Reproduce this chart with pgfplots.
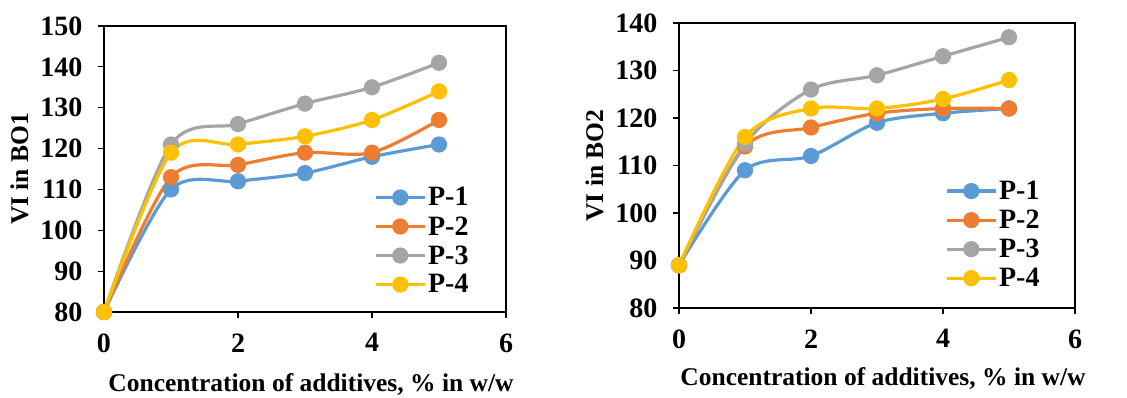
\documentclass[border=0pt]{standalone}
\usepackage{fontspec}
\setmainfont{Liberation Serif}
\usepackage{pgfplots}
\pgfplotsset{compat=1.18}
\definecolor{c1}{HTML}{5B9BD5}
\definecolor{c2}{HTML}{ED7D31}
\definecolor{c3}{HTML}{A5A5A5}
\definecolor{c4}{HTML}{FFC000}
\pgfplotsset{
  myax/.style={
    scale only axis,
    xmin=0, xmax=6, xtick={0,2,4,6},
    axis line style={line width=1.3pt},
    tick style={line width=1.1pt, black},
    major tick length=6pt,
    tick align=outside,
    xtick pos=bottom, ytick pos=left,
    /pgf/number format/assume math mode=true,
    ticklabel style={font=\fontsize{28}{30}\selectfont\bfseries},
    xticklabel style={yshift=-12pt},
    yticklabel style={xshift=-12pt},
    label style={font=\fontsize{25.5}{28}\selectfont\bfseries},
    xlabel={Concentration of additives, \% in w/w},
    legend style={draw=none, fill=none, font=\fontsize{28}{28}\selectfont\bfseries, row sep=5pt,
      legend cell align=left, anchor=north west},
    legend image code/.code={
      \draw[mark repeat=2,mark phase=2,#1] plot coordinates {(0cm,0cm) (0.85cm,0cm) (1.7cm,0cm)};},
    every axis plot/.append style={line width=3.2pt, smooth, tension=0.5, mark=*, mark size=6.5pt, mark options={solid}},
  }
}
\begin{document}
\begin{tikzpicture}
\path[use as bounding box] (0,0) rectangle (1127pt,397pt);
\begin{axis}[myax, at={(104pt,85pt)}, anchor=origin, width=402pt, height=286pt,
  ymin=80, ymax=150, ytick={80,90,...,150},
  ylabel={VI in BO1}, xlabel style={yshift=-14pt, xshift=6pt}, ylabel style={yshift=5pt},
  legend style={at={(rel axis cs:0.665,0.45)}}]
\addplot[c1] coordinates {(0,80) (1,110) (2,112) (3,114) (4,118) (5,121)};
\addplot[c2] coordinates {(0,80) (1,113) (2,116) (3,119) (4,119) (5,127)};
\addplot[c3] coordinates {(0,80) (1,121) (2,126) (3,131) (4,135) (5,141)};
\addplot[c4] coordinates {(0,80) (1,119) (2,121) (3,123) (4,127) (5,134)};
\legend{P-1,P-2,P-3,P-4}
\end{axis}
\begin{axis}[myax, at={(679pt,89pt)}, anchor=origin, width=396pt, height=285pt,
  ymin=80, ymax=140, ytick={80,90,...,140},
  ylabel={VI in BO2}, xlabel style={yshift=-12pt, xshift=6pt}, ylabel style={yshift=5pt},
  legend style={at={(rel axis cs:0.665,0.46)}}]
\addplot[c1] coordinates {(0,89) (1,109) (2,112) (3,119) (4,121) (5,122)};
\addplot[c2] coordinates {(0,89) (1,114) (2,118) (3,121) (4,122) (5,122)};
\addplot[c3] coordinates {(0,89) (1,114.5) (2,126) (3,129) (4,133) (5,137)};
\addplot[c4] coordinates {(0,89) (1,116) (2,122) (3,122) (4,124) (5,128)};
\legend{P-1,P-2,P-3,P-4}
\end{axis}
\end{tikzpicture}
\end{document}
